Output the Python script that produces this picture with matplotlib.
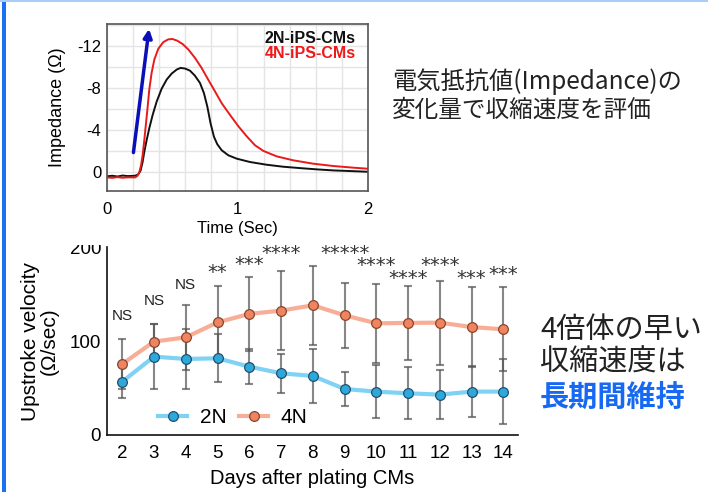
import numpy as np
import matplotlib
matplotlib.use("Agg")
import matplotlib.pyplot as plt
from matplotlib.patches import Rectangle
from matplotlib.lines import Line2D

plt.rcParams['font.family'] = ['Liberation Sans', 'Noto Sans CJK JP']
plt.rcParams['axes.unicode_minus'] = False

# --- top panel: impedance traces ---
t_2n = [0.0, 0.04, 0.08, 0.12, 0.16, 0.215, 0.240, 0.258, 0.273, 0.286, 0.304, 0.324,
        0.350, 0.381, 0.419, 0.457, 0.496, 0.534, 0.564, 0.598, 0.636, 0.674, 0.713,
        0.743, 0.769, 0.794, 0.820, 0.845, 0.879, 0.930, 0.994, 1.096, 1.224, 1.351,
        1.479, 1.607, 1.734, 1.862, 2.0]
z_2n = [0.4, 0.35, 0.42, 0.33, 0.38, 0.35, 0.22, -0.16, -0.96, -1.92, -3.04, -4.16,
        -5.44, -6.72, -7.94, -8.80, -9.38, -9.76, -9.92, -9.86, -9.66, -9.18, -8.48,
        -7.52, -6.24, -4.64, -3.36, -2.66, -2.08, -1.60, -1.28, -0.96, -0.70, -0.51,
        -0.38, -0.26, -0.16, -0.10, -0.03]
t_4n = [0.0, 0.04, 0.08, 0.12, 0.16, 0.215, 0.232, 0.248, 0.261, 0.273, 0.286, 0.299,
        0.312, 0.324, 0.342, 0.363, 0.393, 0.432, 0.470, 0.503, 0.539, 0.580, 0.623,
        0.674, 0.725, 0.776, 0.828, 0.879, 0.943, 1.006, 1.070, 1.134, 1.198, 1.300,
        1.428, 1.581, 1.734, 1.888, 2.0]
z_4n = [0.5, 0.55, 0.48, 0.54, 0.5, 0.51, 0.38, 0.0, -0.64, -1.6, -3.04, -4.64,
        -6.24, -7.84, -9.44, -10.72, -11.74, -12.38, -12.64, -12.67, -12.51, -12.19, -11.68,
        -10.88, -9.92, -8.80, -7.68, -6.56, -5.44, -4.38, -3.42, -2.56, -2.02, -1.50,
        -1.12, -0.80, -0.58, -0.42, -0.32]
arrow_start = (0.2, -1.6)
arrow_end = (0.325, -13.9)

# --- bottom panel: upstroke velocity ---
days = [2, 3, 4, 5, 6, 7, 8, 9, 10, 11, 12, 13, 14]
v_2n = [56.8, 83.5, 81.0, 81.7, 72.8, 65.7, 62.9, 49.0, 46.2, 44.4, 43.0, 46.2, 46.2]
sd_2n = [17.8, 34.5, 32.0, 25.7, 19.0, 20.7, 28.4, 18.0, 28.4, 27.7, 26.0, 27.4, 34.5]
v_4n = [75.7, 99.5, 104.0, 120.0, 129.0, 132.5, 138.2, 127.5, 119.0, 119.4, 119.7, 115.0, 112.6]
sd_4n = [27.0, 18.8, 34.5, 38.8, 39.7, 42.3, 41.8, 34.8, 42.0, 39.6, 44.8, 43.0, 44.8]
sig_labels = ['NS', 'NS', 'NS', '**', '***', '****', '', '*****', '****', '****', '****', '***', '***']
sig_y = [128, 144, 161.6, 180, 188.3, 200, 0, 200, 186.5, 173.4, 187.2, 173.4, 177]

fig = plt.figure(figsize=(7.08, 4.92), dpi=100)

# top axes
ax1 = fig.add_axes([0.1511, 0.6118, 0.3686, 0.3394])
ax1.plot(t_2n, z_2n, color='#111111', lw=1.4)
ax1.plot(t_4n, z_4n, color='#e81a1a', lw=1.4)
ax1.set_xlim(0, 2)
ax1.set_ylim(1.8, -14.1)
ax1.set_xticks([0, 1, 2])
ax1.set_xticks(np.arange(0, 2.01, 0.2), minor=True)
ax1.set_yticks([0, -4, -8, -12])
ax1.set_yticks(np.arange(0, -14.1, -2), minor=True)
ax1.grid(True, which='both', color='#e4e4e4', lw=1)
ax1.set_axisbelow(True)
ax1.tick_params(which='both', length=0, labelsize=12)
ax1.tick_params(axis='x', pad=8)
ax1.tick_params(axis='y', pad=4)
for s in ax1.spines.values():
    s.set_color('#555555')
    s.set_linewidth(1.2)
ax1.set_xlabel('Time (Sec)', fontsize=12, labelpad=3)
ax1.set_ylabel('Impedance (Ω)', fontsize=13, labelpad=8)
ax1.annotate('', xy=arrow_end, xytext=arrow_start,
             arrowprops=dict(arrowstyle='-|>,head_length=0.5,head_width=0.25',
                             color='#0b0fb8', lw=2.5), annotation_clip=False)
ax1.text(0.954, 0.916, '2N-iPS-CMs', transform=ax1.transAxes, ha='right', va='center',
         fontsize=11.5, fontweight='bold', color='#111111')
ax1.text(0.954, 0.826, '4N-iPS-CMs', transform=ax1.transAxes, ha='right', va='center',
         fontsize=11.5, fontweight='bold', color='#f01818')

# bottom axes
ax2 = fig.add_axes([0.1507, 0.1159, 0.581, 0.3815])
c2_line, c2_face, c2_edge = '#7fd2f3', '#2da8dd', '#24506a'
c4_line, c4_face, c4_edge = '#f8ae96', '#ef845f', '#87472f'
ax2.plot(days, v_2n, color=c2_line, lw=3, zorder=2)
ax2.plot(days, v_4n, color=c4_line, lw=3, zorder=2)
ax2.errorbar(days, v_2n, yerr=sd_2n, fmt='none', ecolor='#555555', alpha=0.7,
             elinewidth=1.5, capsize=3, capthick=1.5, zorder=3)
ax2.errorbar(days, v_4n, yerr=sd_4n, fmt='none', ecolor='#555555', alpha=0.7,
             elinewidth=1.5, capsize=3, capthick=1.5, zorder=3)
ax2.plot(days, v_2n, 'o', ms=7, mfc=c2_face, mec=c2_edge, mew=0.9, zorder=4)
ax2.plot(days, v_4n, 'o', ms=7, mfc=c4_face, mec=c4_edge, mew=0.9, zorder=4)

for d, lab, y in zip(days, sig_labels, sig_y):
    if not lab:
        continue
    if lab == 'NS':
        ax2.annotate(lab, (d, y), xytext=(0, -4), textcoords='offset points',
                     ha='center', va='baseline', fontsize=11, color='#222222',
                     annotation_clip=False)
    else:
        ax2.annotate(lab, (d, y), xytext=(0, -8.3), textcoords='offset points',
                     ha='center', va='baseline', fontsize=14, color='#333333',
                     family='DejaVu Sans', annotation_clip=False)

ax2.set_xlim(1.51, 14.46)
ax2.set_ylim(0, 200)
ax2.set_xticks(days)
ax2.set_yticks([0, 100, 200])
ax2.spines['top'].set_visible(False)
ax2.spines['right'].set_visible(False)
for s in ('left', 'bottom'):
    ax2.spines[s].set_linewidth(1.2)
    ax2.spines[s].set_color('#111111')
ax2.tick_params(length=0, labelsize=13.5)
ax2.tick_params(axis='x', pad=7)
ax2.tick_params(axis='y', pad=4)
ax2.set_xlabel('Days after plating CMs', fontsize=14.5, labelpad=5)
ax2.set_ylabel('Upstroke velocity\n(Ω/sec)', fontsize=15, labelpad=8, linespacing=1.0)

h2 = Line2D([], [], color=c2_line, lw=3, marker='o', ms=7, mfc=c2_face, mec=c2_edge, mew=0.9)
h4 = Line2D([], [], color=c4_line, lw=3, marker='o', ms=7, mfc=c4_face, mec=c4_edge, mew=0.9)
ax2.legend([h2, h4], ['2N', '4N'], loc='center left', bbox_to_anchor=(0.125, 0.092),
           ncol=2, frameon=False, fontsize=15, handlelength=1.4, handletextpad=0.6,
           columnspacing=0.6, borderpad=0, borderaxespad=0, numpoints=1)

# right-hand Japanese notes
jp = ['Noto Sans CJK JP', 'DejaVu Sans']
fig.text(392 / 708, 1 - 82 / 492, '電気抵抗値(Impedance)の', fontsize=17.5, family=jp,
         ha='left', va='center', color='#222222')
fig.text(392 / 708, 1 - 110 / 492, '変化量で収縮速度を評価', fontsize=17, family=jp,
         ha='left', va='center', color='#222222')
fig.text(540 / 708, 1 - 330 / 492, '4倍体の早い', fontsize=21, family=jp,
         ha='left', va='center', color='#222222')
fig.text(540 / 708, 1 - 363 / 492, '収縮速度は', fontsize=21, family=jp,
         ha='left', va='center', color='#222222')
fig.text(540 / 708, 1 - 397 / 492, '長期間維持', fontsize=21, family=jp, fontweight='bold',
         ha='left', va='center', color='#1769f2')

# slide frame and the gap between the two pasted pictures
fig.patches.append(Rectangle((8 / 708, 1 - 245 / 492), 1, 9 / 492, transform=fig.transFigure,
                             facecolor='white', edgecolor='none', zorder=10))
fig.patches.append(Rectangle((2 / 708, 0), 4 / 708, 1, transform=fig.transFigure,
                             facecolor='#1a72f2', edgecolor='none', zorder=11))
fig.patches.append(Rectangle((0, 1 - 2 / 492), 1, 2 / 492, transform=fig.transFigure,
                             facecolor='#a9cdf8', edgecolor='none', zorder=11))

fig.savefig('out.png', dpi=100)
